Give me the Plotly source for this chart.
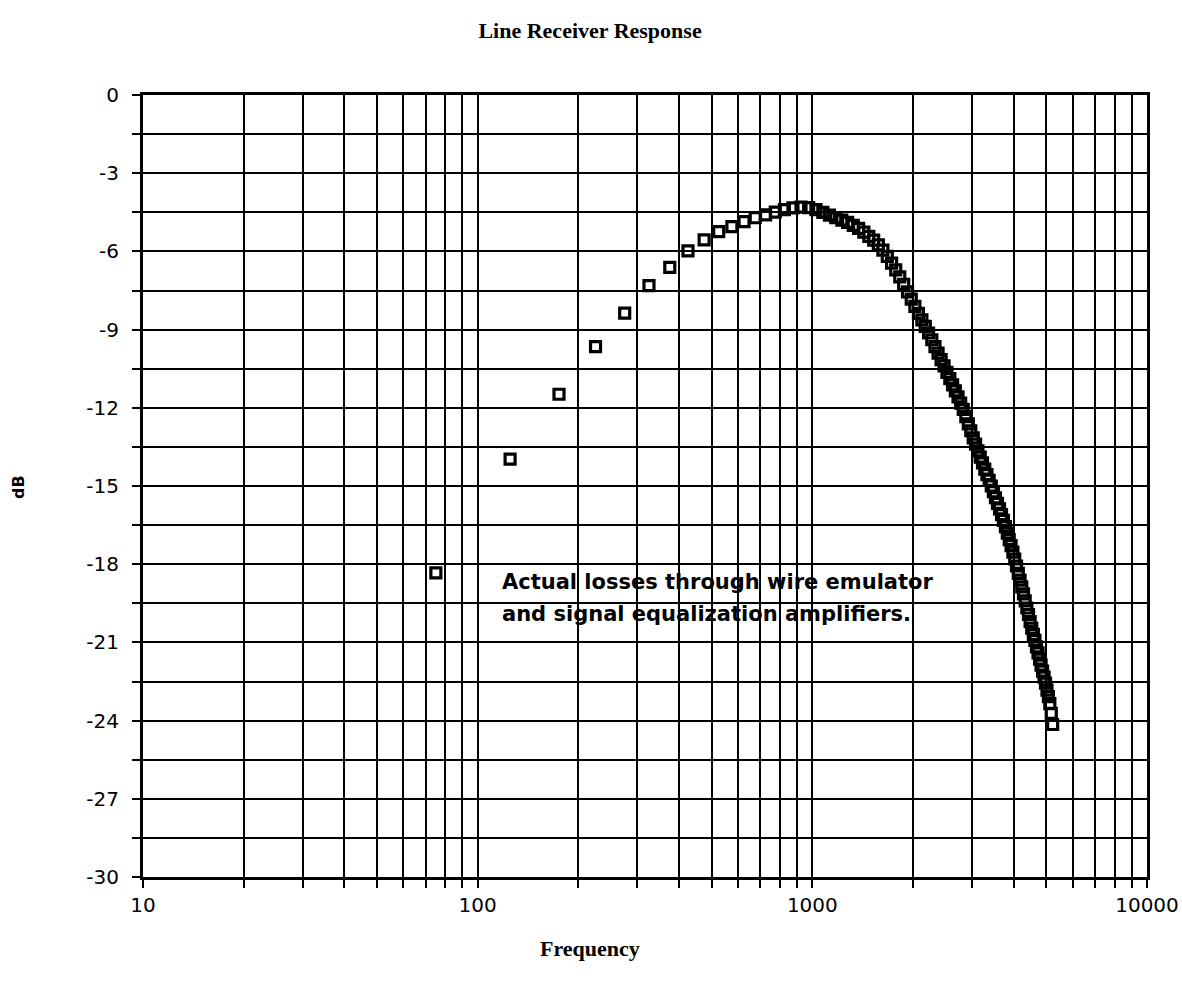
import plotly.graph_objects as go

# Measured line receiver response: frequency (Hz) vs. gain (dB)
freq_hz = [
    75, 125, 175, 225, 275, 325, 375, 425, 475, 525,
    575, 625, 675, 725, 775, 825, 875, 925, 975, 1025,
    1075, 1125, 1175, 1225, 1275, 1325, 1375, 1425, 1475, 1525,
    1575, 1625, 1675, 1725, 1775, 1825, 1875, 1925, 1975, 2025,
    2075, 2125, 2175, 2225, 2275, 2325, 2375, 2425, 2475, 2525,
    2575, 2625, 2675, 2725, 2775, 2825, 2875, 2925, 2975, 3025,
    3075, 3125, 3175, 3225, 3275, 3325, 3375, 3425, 3475, 3525,
    3575, 3625, 3675, 3725, 3775, 3825, 3875, 3925, 3975, 4025,
    4075, 4125, 4175, 4225, 4275, 4325, 4375, 4425, 4475, 4525,
    4575, 4625, 4675, 4725, 4775, 4825, 4875, 4925, 4975, 5025,
    5075, 5125, 5175, 5225,
]

gain_db = [
    -18.33, -13.97, -11.48, -9.65, -8.37, -7.31, -6.61, -5.98, -5.56, -5.24,
    -5.05, -4.86, -4.71, -4.60, -4.49, -4.40, -4.33, -4.30, -4.32, -4.40,
    -4.50, -4.61, -4.71, -4.80, -4.89, -5.00, -5.12, -5.26, -5.42, -5.57,
    -5.75, -5.95, -6.19, -6.45, -6.71, -6.98, -7.26, -7.55, -7.83, -8.11,
    -8.38, -8.63, -8.88, -9.13, -9.39, -9.65, -9.90, -10.15, -10.39, -10.64,
    -10.88, -11.12, -11.35, -11.58, -11.82, -12.06, -12.34, -12.62, -12.88, -13.15,
    -13.39, -13.65, -13.89, -14.11, -14.35, -14.56, -14.78, -15.00, -15.22, -15.45,
    -15.67, -15.88, -16.10, -16.32, -16.56, -16.81, -17.06, -17.29, -17.54, -17.80,
    -18.07, -18.35, -18.61, -18.87, -19.14, -19.41, -19.68, -19.93, -20.20, -20.45,
    -20.69, -20.92, -21.17, -21.40, -21.64, -21.87, -22.10, -22.33, -22.56, -22.83,
    -23.08, -23.35, -23.72, -24.15,
]

# Axis ticks: every log subdivision on x, every 1.5 dB on y (labels on majors only)
x_tick_vals = [10, 20, 30, 40, 50, 60, 70, 80, 90,
               100, 200, 300, 400, 500, 600, 700, 800, 900,
               1000, 2000, 3000, 4000, 5000, 6000, 7000, 8000, 9000,
               10000]
x_tick_text = ["10", "", "", "", "", "", "", "", "",
               "100", "", "", "", "", "", "", "", "",
               "1000", "", "", "", "", "", "", "", "",
               "10000"]

y_tick_vals = [0, -1.5, -3, -4.5, -6, -7.5, -9, -10.5, -12, -13.5, -15,
               -16.5, -18, -19.5, -21, -22.5, -24, -25.5, -27, -28.5, -30]
y_tick_text = ["0", "", "-3", "", "-6", "", "-9", "", "-12", "", "-15",
               "", "-18", "", "-21", "", "-24", "", "-27", "", "-30"]

chart_title = "Line Receiver Response"
x_title = "Frequency"
y_title = "dB"
note_lines = ["Actual losses through wire emulator",
              "and signal equalization amplifiers."]

assert len(freq_hz) == len(gain_db)

fig = go.Figure()
fig.add_trace(go.Scatter(
    x=freq_hz, y=gain_db, mode="markers",
    marker=dict(symbol="square-open", size=10, color="black",
                line=dict(width=3.2, color="black")),
    showlegend=False, hoverinfo="x+y",
))

axis_common = dict(
    showline=True, linewidth=3, linecolor="black", mirror=True,
    showgrid=True, gridcolor="black", gridwidth=1.8,
    ticks="outside", ticklen=8, tickwidth=2, tickcolor="black",
    zeroline=False, automargin=False,
    tickfont=dict(family="DejaVu Sans", size=20, color="black"),
)

fig.update_xaxes(type="log", range=[1, 4], tickmode="array",
                 tickvals=x_tick_vals, ticktext=x_tick_text,
                 ticklabelstandoff=0, **axis_common)
fig.update_yaxes(range=[-30, 0], tickmode="array",
                 tickvals=y_tick_vals, ticktext=y_tick_text,
                 ticklabelstandoff=9, **axis_common)

annotations = [
    dict(text="<b>" + x_title + "</b>", xref="paper", yref="paper",
         x=0.4452, y=-0.0908,
         showarrow=False, xanchor="center", yanchor="middle",
         font=dict(family="Liberation Serif", size=22, color="black")),
    dict(text="<b>" + y_title + "</b>", xref="paper", yref="paper",
         x=-0.1245, y=0.4987,
         showarrow=False, textangle=-90, xanchor="center", yanchor="middle",
         font=dict(family="DejaVu Sans", size=16, color="black")),
]
for i, line in enumerate(note_lines):
    annotations.append(dict(
        text=line, xref="paper", yref="paper", x=0.3556, y=0.3772 - 0.041 * i,
        showarrow=False, xanchor="left", yanchor="middle",
        font=dict(family="DejaVu Sans", size=21, weight=600, color="black")))

fig.update_layout(
    width=1182, height=992,
    margin=dict(l=143, r=35, t=95, b=115),
    paper_bgcolor="white", plot_bgcolor="white",
    title=dict(text="<b>" + chart_title + "</b>", x=0.4992, y=0.9698,
               xanchor="center", yanchor="middle",
               font=dict(family="Liberation Serif", size=22, color="black")),
    annotations=annotations,
)

fig.write_html("out.html")
